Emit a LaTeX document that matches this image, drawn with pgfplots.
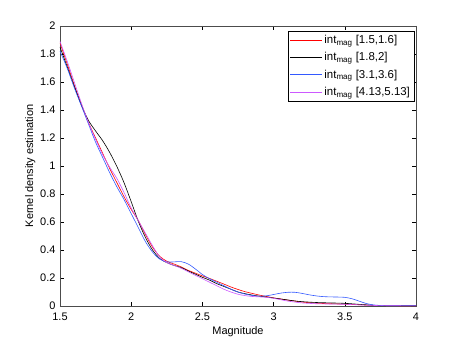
\documentclass[border=0pt]{standalone}
\usepackage{pgfplots}
\pgfplotsset{compat=1.18}
\usepackage{fontspec}
\setmainfont{Liberation Sans}
\definecolor{myblue}{rgb}{0.2,0.35,1}
\definecolor{myviolet}{rgb}{0.8,0.35,1}
\begin{document}
\begin{tikzpicture}
\path[use as bounding box] (-60bp,-40bp) rectangle (400bp,306bp);
\begin{axis}[
  at={(0,0)}, anchor=south west,
  scale only axis, width=356bp, height=280bp,
  xmin=1.5, xmax=4, ymin=0, ymax=2,
  xtick={1.5,2,2.5,3,3.5,4},
  xticklabels={1.5,2,2.5,3,3.5,4},
  ytick={0,0.2,0.4,0.6,0.8,1,1.2,1.4,1.6,1.8,2},
  yticklabels={0,0.2,0.4,0.6,0.8,1,1.2,1.4,1.6,1.8,2},
  tick align=inside, major tick length=4bp,
  tick style={black, line width=0.5pt},
  axis line style={black!70, line width=0.6pt},
  tick label style={font=\fontsize{11}{13}\selectfont},
  xticklabel style={yshift=-3bp},
  yticklabel style={xshift=-1bp},
  label style={font=\fontsize{11}{13}\selectfont},
  xlabel={Magnitude},
  ylabel={Kernel density estimation},
  xlabel style={at={(axis description cs:0.5,0)}, anchor=north, yshift=-17bp},
  ylabel style={at={(axis description cs:0,0.5)}, anchor=south, yshift=21bp},
  legend style={at={(0.995,0.982)}, anchor=north east, draw=black, line width=0.6pt,
    font=\fontsize{11.5}{13}\selectfont, inner xsep=2pt, inner ysep=2pt, row sep=3.5pt,
    cells={anchor=west}},
  legend image code/.code={\draw[mark repeat=2,mark phase=2,#1] plot coordinates {(0bp,0bp) (16bp,0bp) (32bp,0bp)};},
]
\addplot[red, line width=0.6pt, smooth, tension=0.5] coordinates {
(1.50,1.88)(1.55,1.73)(1.60,1.58)(1.65,1.44)(1.70,1.31)(1.75,1.20)(1.80,1.09)(1.85,0.98)(1.90,0.88)(1.95,0.78)(2.00,0.69)(2.05,0.61)(2.10,0.51)(2.15,0.42)(2.20,0.355)(2.25,0.32)(2.30,0.30)(2.35,0.28)(2.40,0.255)(2.45,0.235)(2.50,0.215)(2.55,0.197)(2.60,0.177)(2.65,0.157)(2.70,0.136)(2.75,0.118)(2.80,0.102)(2.85,0.09)(2.90,0.078)(2.95,0.068)(3.00,0.058)(3.05,0.05)(3.10,0.042)(3.15,0.035)(3.20,0.028)(3.30,0.02)(3.40,0.016)(3.50,0.013)(3.60,0.009)(3.70,0.005)(3.80,0.003)(3.90,0.002)(4.00,0.002)};
\addlegendentry{int\textsubscript{mag} [1.5,1.6]}
\addplot[black, line width=0.6pt, smooth, tension=0.5] coordinates {
(1.50,1.85)(1.55,1.71)(1.60,1.57)(1.65,1.435)(1.70,1.325)(1.75,1.25)(1.80,1.18)(1.85,1.095)(1.90,0.995)(1.95,0.88)(2.00,0.745)(2.05,0.605)(2.10,0.49)(2.15,0.40)(2.20,0.34)(2.25,0.31)(2.30,0.29)(2.35,0.275)(2.40,0.25)(2.45,0.228)(2.50,0.205)(2.55,0.185)(2.60,0.16)(2.65,0.14)(2.70,0.12)(2.75,0.10)(2.80,0.088)(2.85,0.078)(2.90,0.07)(2.95,0.064)(3.00,0.057)(3.05,0.05)(3.10,0.043)(3.15,0.036)(3.20,0.031)(3.30,0.025)(3.40,0.022)(3.50,0.019)(3.60,0.012)(3.70,0.005)(3.80,0.003)(4.00,0.002)};
\addlegendentry{int\textsubscript{mag} [1.8,2]}
\addplot[myblue, line width=0.6pt, smooth, tension=0.5] coordinates {
(1.50,1.82)(1.55,1.70)(1.60,1.56)(1.65,1.43)(1.70,1.30)(1.75,1.17)(1.80,1.06)(1.85,0.95)(1.90,0.85)(1.95,0.76)(2.00,0.66)(2.05,0.56)(2.10,0.46)(2.15,0.385)(2.20,0.335)(2.25,0.315)(2.30,0.315)(2.35,0.317)(2.40,0.30)(2.45,0.265)(2.50,0.225)(2.55,0.195)(2.60,0.17)(2.65,0.145)(2.70,0.12)(2.75,0.10)(2.80,0.085)(2.85,0.075)(2.90,0.07)(2.95,0.073)(3.00,0.082)(3.05,0.092)(3.10,0.098)(3.15,0.098)(3.20,0.09)(3.25,0.08)(3.30,0.072)(3.35,0.067)(3.40,0.065)(3.45,0.064)(3.50,0.062)(3.55,0.052)(3.60,0.035)(3.65,0.018)(3.70,0.008)(3.75,0.004)(3.80,0.003)(4.00,0.003)};
\addlegendentry{int\textsubscript{mag} [3.1,3.6]}
\addplot[myviolet, line width=0.6pt, smooth, tension=0.5] coordinates {
(1.50,1.89)(1.55,1.75)(1.60,1.60)(1.65,1.45)(1.70,1.31)(1.75,1.19)(1.80,1.08)(1.85,0.99)(1.90,0.91)(1.95,0.81)(2.00,0.70)(2.05,0.61)(2.10,0.52)(2.15,0.43)(2.20,0.35)(2.25,0.31)(2.30,0.29)(2.35,0.27)(2.40,0.245)(2.45,0.22)(2.50,0.195)(2.55,0.17)(2.60,0.145)(2.65,0.12)(2.70,0.10)(2.75,0.084)(2.80,0.074)(2.85,0.068)(2.90,0.065)(2.95,0.062)(3.00,0.055)(3.05,0.045)(3.10,0.035)(3.15,0.028)(3.20,0.022)(3.30,0.016)(3.40,0.014)(3.50,0.012)(3.60,0.008)(3.70,0.004)(3.80,0.002)(4.00,0.001)};
\addlegendentry{int\textsubscript{mag} [4.13,5.13]}
\end{axis}
\end{tikzpicture}
\end{document}
